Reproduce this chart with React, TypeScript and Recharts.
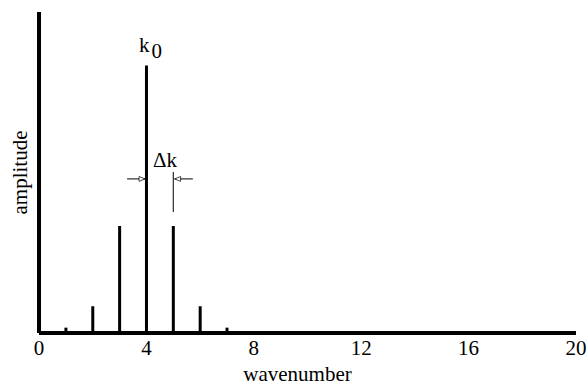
import {
  Bar,
  ComposedChart,
  Label,
  ReferenceLine,
  XAxis,
  YAxis,
} from "recharts";

const FONT = "'Liberation Serif', 'Times New Roman', serif";
const FS = 21;

const wavenumbers = [1, 2, 3, 4, 5, 6, 7];
const amplitudes = [0.02, 0.1, 0.4, 1, 0.4, 0.1, 0.02];
const xTicks = [0, 4, 8, 12, 16, 20];

const data = wavenumbers.map((k, i) => ({ k, amp: amplitudes[i] }));

// annotation positions in data units
const peakK = 4;
const sideK = 5;
const arrowY = 0.576;

const textAt =
  (main: string, sub?: string) =>
  ({ viewBox }: any) => {
    const x = viewBox?.x ?? 0;
    const y = viewBox?.y ?? 0;
    return (
      <text x={x} y={y} textAnchor="middle" fill="#000" fontSize={FS} fontFamily={FONT}>
        <tspan>{main}</tspan>
        {sub && (
          <tspan dx={2} dy={6}>
            {sub}
          </tspan>
        )}
      </text>
    );
  };

export default function App() {
  return (
    <div style={{ position: "absolute", left: 0, top: 0 }}>
      <ComposedChart
        width={587}
        height={385}
        data={data}
        margin={{ top: 12, right: 11, bottom: 0, left: 0 }}
        style={{ fontFamily: FONT }}
      >
        <defs>
          <marker
            id="head"
            viewBox="0 0 10 10"
            refX="10"
            refY="5"
            markerWidth="8"
            markerHeight="6"
            markerUnits="userSpaceOnUse"
            orient="auto"
          >
            <path d="M0,1 L10,5 L0,9 Z" fill="#fff" stroke="#000" strokeWidth={1.2} />
          </marker>
        </defs>
        <XAxis
          type="number"
          dataKey="k"
          domain={[0, 20]}
          ticks={xTicks}
          tickLine={false}
          axisLine={{ stroke: "#000", strokeWidth: 4 }}
          tick={{ fill: "#000", fontSize: FS, fontFamily: FONT }}
          tickMargin={1}
          height={52}
        >
          <Label
            value="wavenumber"
            position="insideBottom"
            offset={4}
            dx={-10}
            style={{ fill: "#000", fontSize: FS, fontFamily: FONT }}
          />
        </XAxis>
        <YAxis
          type="number"
          domain={[0, 1.2]}
          tick={false}
          tickLine={false}
          axisLine={{ stroke: "#000", strokeWidth: 4 }}
          width={39}
        >
          <Label
            value="amplitude"
            angle={-90}
            position="insideLeft"
            offset={20}
            style={{ fill: "#000", fontSize: FS, fontFamily: FONT, textAnchor: "middle" }}
          />
        </YAxis>
        <Bar dataKey="amp" fill="#000" barSize={3} isAnimationActive={false} />
        <ReferenceLine
          segment={[
            { x: sideK, y: 0.452 },
            { x: sideK, y: 0.602 },
          ]}
          stroke="#000"
          strokeWidth={1}
        />
        <ReferenceLine
          segment={[
            { x: 3.28, y: arrowY },
            { x: peakK - 0.05, y: arrowY },
          ]}
          stroke="#000"
          strokeWidth={1}
          markerEnd="url(#head)"
        />
        <ReferenceLine
          segment={[
            { x: 5.73, y: arrowY },
            { x: sideK + 0.05, y: arrowY },
          ]}
          stroke="#000"
          strokeWidth={1}
          markerEnd="url(#head)"
        />
        <ReferenceLine
          segment={[
            { x: 4.69, y: 0.62 },
            { x: 4.69, y: 0.62 },
          ]}
          stroke="none"
        >
          <Label position="center" content={textAt("Δk")} />
        </ReferenceLine>
        <ReferenceLine
          segment={[
            { x: 4.15, y: 1.05 },
            { x: 4.15, y: 1.05 },
          ]}
          stroke="none"
        >
          <Label position="center" content={textAt("k", "0")} />
        </ReferenceLine>
      </ComposedChart>
    </div>
  );
}
